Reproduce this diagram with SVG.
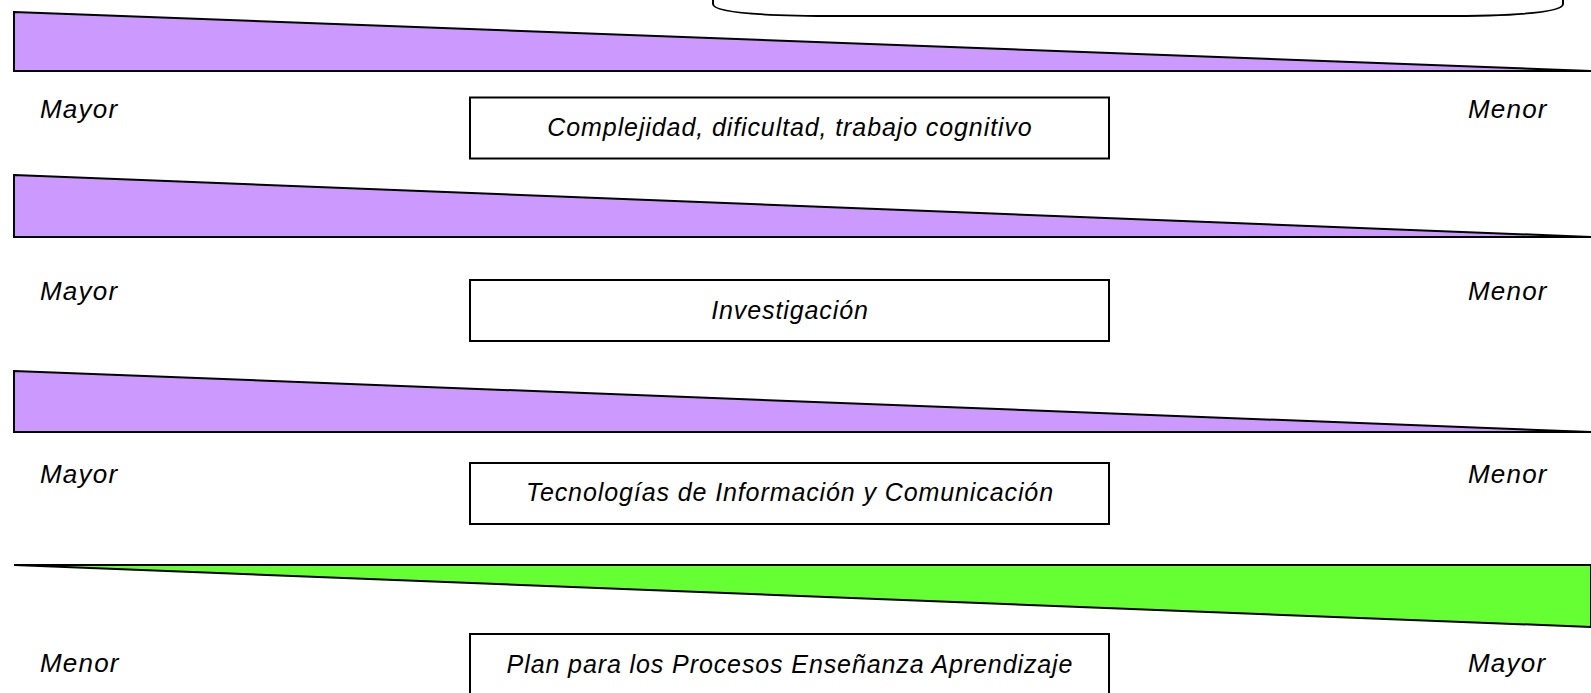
<svg xmlns="http://www.w3.org/2000/svg" width="1591" height="693" viewBox="0 0 1591 693">
<style>
.bg{fill:#ffffff}
.wp{fill:#CC99FF;stroke:#000;stroke-width:2;stroke-linejoin:miter}
.wg{fill:#66FF33;stroke:#000;stroke-width:2}
.box{fill:#fff;stroke:#000;stroke-width:2}
.lbl{font-family:"Liberation Sans",Arial,sans-serif;font-style:italic;font-size:26px;letter-spacing:1.2px;fill:#000}
.bt{font-family:"Liberation Sans",Arial,sans-serif;font-style:italic;font-size:25px;letter-spacing:0.9px;fill:#000;text-anchor:middle}
</style>
<rect class="bg" x="0" y="0" width="1591" height="693"/>
<g id="top-box">
<path class="box" d="M713,-3 V4 Q713,16 840,16 H1440 Q1563,16 1563,4 V-3"/>
</g>
<g id="connectors"></g>
<g id="wedge1"><polygon class="wp" points="14,12 1591,71 14,71"/></g>
<g id="row1">
<text class="lbl" x="40" y="118">Mayor</text>
<text class="lbl" x="1468" y="118">Menor</text>
</g>
<g id="box1">
<rect class="box" x="470" y="97.5" width="639" height="61"/>
<text class="bt" x="790" y="136">Complejidad, dificultad, trabajo cognitivo</text>
</g>
<g id="wedge2"><polygon class="wp" points="14,175 1591,237 14,237"/></g>
<g id="row2">
<text class="lbl" x="40" y="300">Mayor</text>
<text class="lbl" x="1468" y="300">Menor</text>
</g>
<g id="box2">
<rect class="box" x="470" y="280" width="639" height="61"/>
<text class="bt" x="790" y="319">Investigación</text>
</g>
<g id="wedge3"><polygon class="wp" points="14,371 1591,432 14,432"/></g>
<g id="row3">
<text class="lbl" x="40" y="483">Mayor</text>
<text class="lbl" x="1468" y="483">Menor</text>
</g>
<g id="box3">
<rect class="box" x="470" y="463" width="639" height="61"/>
<text class="bt" x="790" y="501">Tecnologías de Información y Comunicación</text>
</g>
<g id="wedge4"><polygon class="wg" points="14,565 1591,565 1591,627"/></g>
<g id="row4">
<text class="lbl" x="40" y="672">Menor</text>
<text class="lbl" x="1468" y="672">Mayor</text>
</g>
<g id="box4">
<rect class="box" x="470" y="634" width="639" height="70"/>
<text class="bt" x="790" y="673">Plan para los Procesos Enseñanza Aprendizaje</text>
</g>
</svg>
